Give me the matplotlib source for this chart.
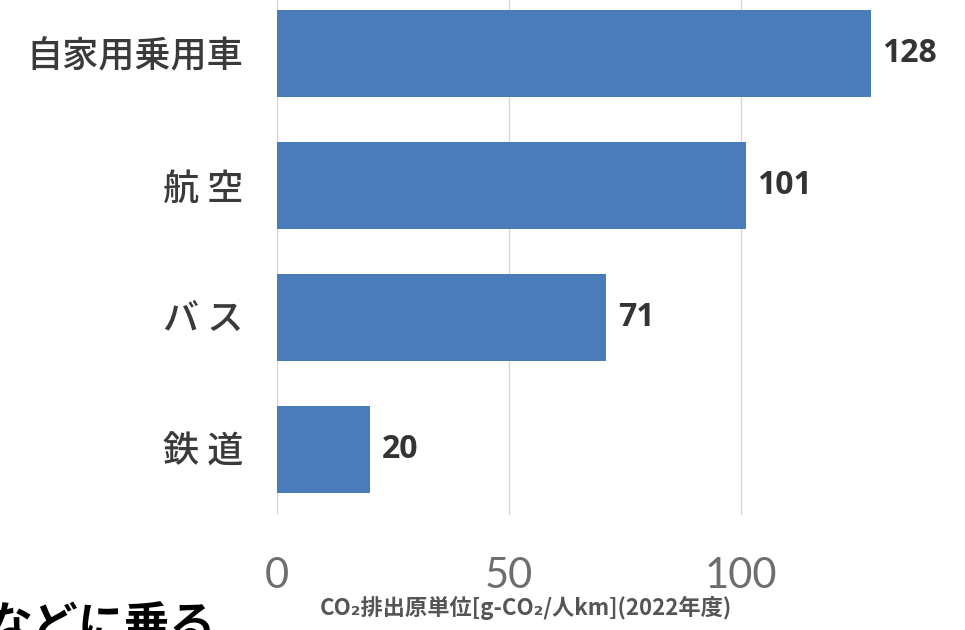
import matplotlib.pyplot as plt

plt.rcParams['font.family'] = ['Noto Sans CJK JP', 'DejaVu Sans']

categories = ['自家用乗用車', '航 空', 'バ ス', '鉄 道']
values = [128, 101, 71, 20]
xticks = [0, 50, 100]
xlabel = 'CO₂排出原単位[g-CO₂/人km](2022年度)'
cut_text = 'などに乗る'

fig = plt.figure(figsize=(9.65, 6.3), dpi=100)
ax = fig.add_axes([0.287, 0.1825, 0.649, 0.837])

ypos = list(range(len(categories)))[::-1]
ax.barh(ypos, values, height=0.66, color='#4a7cb9', zorder=3)
ax.set_ylim(-0.5, len(categories) - 0.5)
ax.set_xlim(0, 135)

for y, v in zip(ypos, values):
    ax.text(v + 2.5, y, str(v), va='center', ha='left', fontsize=23,
            fontweight='bold', color='#333333', family=['Open Sans', 'DejaVu Sans'])

ax.set_yticks(ypos)
ax.set_yticklabels(categories, fontsize=26, color='#3a3a3a', fontweight='medium')
ax.tick_params(axis='y', length=0, pad=24)

ax.set_xticks(xticks)
ax.set_xticklabels([str(t) for t in xticks], fontsize=30, color='#6e6e6e',
                   family=['Lato', 'DejaVu Sans'], fontweight='normal')
ax.tick_params(axis='x', length=0, pad=30)
ax.grid(axis='x', color='#d9d9d9', linewidth=1, zorder=0)

for s in ax.spines.values():
    s.set_visible(False)

fig.text(0.545, 1 - 608 / 630, xlabel, ha='center', va='center', fontsize=16,
         color='#555555', fontweight='bold')

fig.text(-0.015, 1 - 604 / 630, cut_text, ha='left', va='top', fontsize=33,
         color='black', fontweight='bold')

fig.savefig('out.png', dpi=100)
